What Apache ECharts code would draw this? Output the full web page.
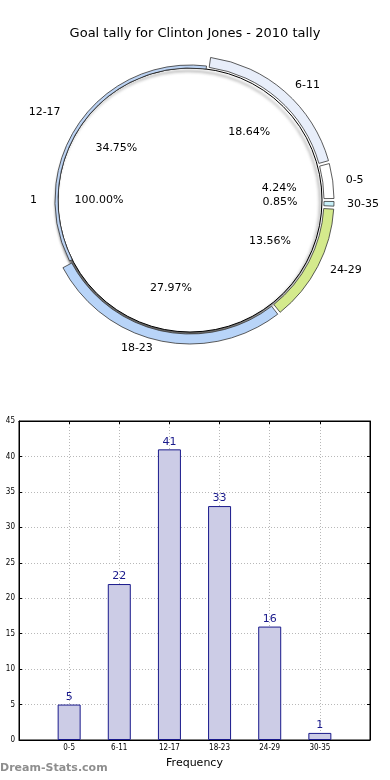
<!DOCTYPE html>
<html><head><meta charset="utf-8">
<script src="https://cdn.jsdelivr.net/npm/echarts@6/dist/echarts.min.js"></script>
<style>html,body{margin:0;padding:0;background:#fff}#c{width:390px;height:780px}</style>
</head><body><div id="c"></div>
<script>
const categories = ['0-5','6-11','12-17','18-23','24-29','30-35'];
const frequencies = [5,22,41,33,16,1];
const ringColors = ['#ffffff','#e8eefa','#bcd3f3','#b8d4f8','#d4ea8c','#c8f0f8'];
const totalLabel = '1';
const totalValues = [1];
const yTicks = [0,5,10,15,20,25,30,35,40,45];

const total = frequencies.reduce((a,b)=>a+b,0);
const pct = v => (v/total*100).toFixed(2) + '%';
const FONT = 'DejaVu Sans';
const C = ['190','200'];

const ringData = categories.map((c,i)=>({
  name:c, value:frequencies[i],
  itemStyle: c==='12-17' ? {color:'rgba(0,0,0,0)',borderWidth:0} : {color:ringColors[i]}
}));
const thinData = categories.map((c,i)=>({
  name:c, value:frequencies[i],
  itemStyle: c==='12-17' ? {color:ringColors[i],borderColor:'#333',borderWidth:0.8} : {color:'rgba(0,0,0,0)',borderWidth:0}
}));

const axisBase = {
  axisLine:{show:true,onZero:false,lineStyle:{color:'#000'}},
  axisTick:{show:true,inside:true,length:3,lineStyle:{color:'#000'}}
};

const chart = echarts.init(document.getElementById('c'));
chart.setOption({
  animation:false,
  title:{text:'Goal tally for Clinton Jones - 2010 tally',left:'center',top:22,
    textStyle:{fontSize:13,fontWeight:'normal',color:'#000',fontFamily:FONT}},
  graphic:[{type:'text',left:0,top:763,style:{text:'Dream-Stats.com',fill:'#8e8e8e',font:'bold 11px "DejaVu Sans"'}}],
  grid:{left:19,right:20,top:421,bottom:40,show:true,borderColor:'#000',borderWidth:1,backgroundColor:'transparent'},
  xAxis:[Object.assign({type:'value',min:-1,max:6,interval:1,
    name:'Frequency',nameLocation:'middle',nameGap:18,nameTextStyle:{fontSize:11,color:'#000',fontFamily:FONT},
    axisLabel:{fontSize:8,color:'#000',margin:4,fontFamily:'DejaVu Sans Condensed, DejaVu Sans',
      formatter:v=>categories[v]||''},
    splitLine:{show:true,lineStyle:{color:'#b8b8b8',type:[1,2]}}},axisBase),
   Object.assign({type:'value',position:'top',min:-1,max:6,interval:1,
    axisLabel:{show:false},splitLine:{show:false}},axisBase)],
  yAxis:[Object.assign({type:'value',min:0,max:45,interval:5,
    axisLabel:{fontSize:8,color:'#000',margin:4,fontFamily:'DejaVu Sans Condensed, DejaVu Sans',
      formatter:v=>yTicks.includes(v)?String(v):''},
    splitLine:{show:true,lineStyle:{color:'#b8b8b8',type:[1,2]}}},axisBase),
   Object.assign({type:'value',position:'right',min:0,max:45,interval:5,
    axisLabel:{show:false},splitLine:{show:false}},axisBase)],
  series:[
    {type:'bar',xAxisIndex:0,yAxisIndex:0,barWidth:23,
     data:frequencies.map((v,i)=>[i,v]),
     itemStyle:{color:'#cccce6',borderColor:'#1a1a8c',borderWidth:1},
     label:{show:true,position:'top',distance:2,fontSize:11,color:'#1a1a8c',fontFamily:FONT,
       formatter:p=>String(p.value[1])}},
    // inner full circle
    {type:'pie',center:C,radius:[0,132],startAngle:0,clockwise:false,silent:true,
     data:totalValues.map(v=>({name:totalLabel,value:v})),
     itemStyle:{color:'#fff',borderColor:'#000',borderWidth:1,
       shadowColor:'rgba(0,0,0,0.6)',shadowBlur:3,shadowOffsetX:-2,shadowOffsetY:3},
     label:{show:true,position:'outside',fontSize:11,color:'#000',fontFamily:FONT,formatter:'{b}'},
     labelLine:{show:false,length:16,length2:0}},
    // percentage for inner circle
    {type:'pie',center:C,radius:[0,176],startAngle:0,clockwise:false,silent:true,
     data:totalValues.map(v=>({name:totalLabel,value:v})),
     itemStyle:{color:'rgba(0,0,0,0)'},
     label:{show:true,position:'inside',fontSize:11,color:'#000',fontFamily:FONT,formatter:()=> (100).toFixed(2)+'%'},
     labelLine:{show:false}},
    // outer ring
    {type:'pie',center:C,radius:[134,144],startAngle:0,clockwise:false,silent:true,padAngle:1.2,
     avoidLabelOverlap:false,data:ringData,
     itemStyle:{borderColor:'#333',borderWidth:0.8},
     label:{show:true,position:'outside',fontSize:11,color:'#000',fontFamily:FONT,formatter:'{b}'},
     labelLine:{show:false,length:8,length2:0}},
    // thin 12-17 segment
    {type:'pie',center:C,radius:[132,135],startAngle:0,clockwise:false,silent:true,padAngle:1.2,
     avoidLabelOverlap:false,data:thinData,label:{show:false},labelLine:{show:false}},
    // percentage labels
    {type:'pie',center:C,radius:[0,174],startAngle:0,clockwise:false,silent:true,
     avoidLabelOverlap:false,
     data:categories.map((c,i)=>({name:c,value:frequencies[i]})),
     itemStyle:{color:'rgba(0,0,0,0)',borderWidth:0},
     label:{show:true,position:'inside',fontSize:11,color:'#000',fontFamily:FONT,formatter:p=>pct(p.value)},
     labelLine:{show:false}}
  ]
});
</script></body></html>
